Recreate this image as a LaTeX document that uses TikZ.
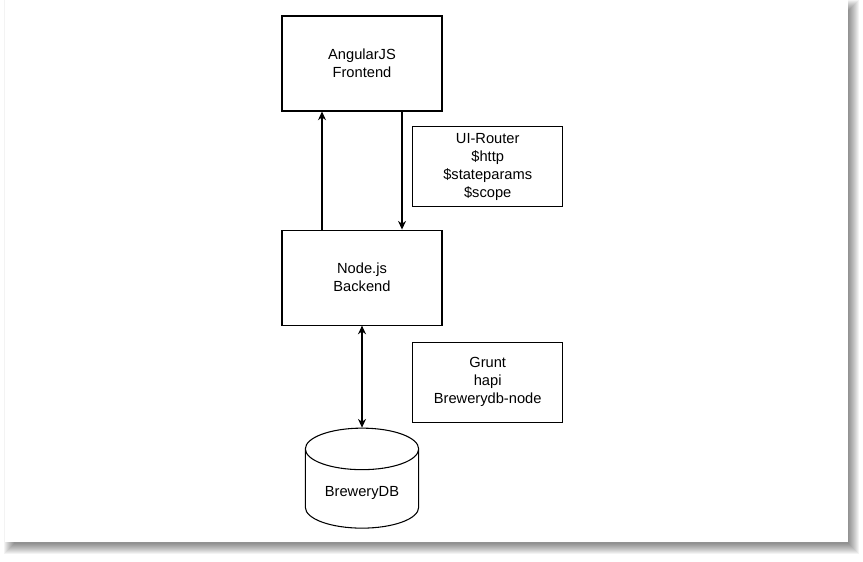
\documentclass[tikz,border=0pt]{standalone}
\usepackage{fontspec}
\setmainfont{Liberation Sans}
\usetikzlibrary{arrows.meta, shapes.geometric, positioning}

\begin{document}
\begin{tikzpicture}[x=0.75pt, y=-0.75pt,
        font=\fontsize{11}{13.5}\selectfont,
        >={Stealth[length=6.5pt, width=6pt]},
        line width=0.8pt]

        % Page with soft shadow
        \useasboundingbox[fill=white] (0,0) rectangle (863,561);
        \foreach \r in {-4,...,6}
            \fill[black, opacity=0.048] (10-\r,6-\r) rectangle (853+\r,548+\r);
        \fill[white] (5,0) rectangle (848,542);

        % Frontend
        \node[draw, align=center, minimum width=120pt, minimum height=71.25pt] (frontend) at (362,63.5) {AngularJS\\Frontend};

        % Frontend libraries
        \node[draw, align=center, minimum width=112.5pt, minimum height=60pt] (frontlibs) at (487.7,166.7) {UI-Router\\\$http\\\$stateparams\\\$scope};

        % Backend
        \node[draw, align=center, minimum width=120pt, minimum height=71.25pt, below=88.5pt of frontend] (backend) {Node.js\\Backend};
        \draw[->] ([xshift=-30pt]backend.north) -- ([xshift=-30pt]frontend.south);
        \draw[->] ([xshift=30pt]frontend.south) -- ([xshift=30pt]backend.north);

        % Backend libraries
        \node[draw, align=center, minimum width=112.5pt, minimum height=60pt] (backlibs) at (487.7,382.3) {Grunt\\hapi\\Brewerydb-node};

        % Database
        \node[draw, cylinder, shape border rotate=90, aspect=0.5, minimum width=85pt, minimum height=75pt, below=76.5pt of backend] (db) {BreweryDB};
        \draw[<->] (backend) -- (db);

    \end{tikzpicture}
\end{document}
